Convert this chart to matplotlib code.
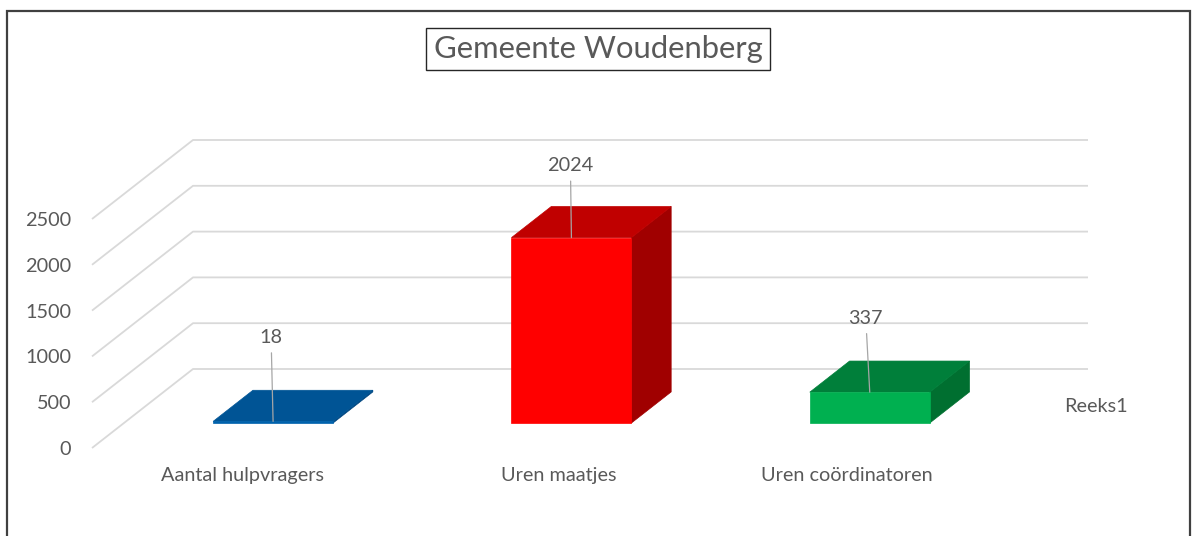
import matplotlib
matplotlib.use("Agg")
import matplotlib.pyplot as plt
from matplotlib.patches import Polygon, Rectangle
from matplotlib.transforms import ScaledTranslation

# ---- data ----
categories = ["Aantal hulpvragers", "Uren maatjes", "Uren coördinatoren"]
values = [18, 2024, 337]
yticks = [0, 500, 1000, 1500, 2000, 2500]
series_name = "Reeks1"
title = "Gemeente Woudenberg"

# ---- style ----
front_colors = ["#0062AC", "#FF0000", "#00B050"]
top_colors = ["#005495", "#C00000", "#007F3A"]
side_colors = ["#004680", "#A00000", "#006F30"]
label_offsets_px = [(-2, -84), (-1, -72), (-4, -74)]
xlabel_shift_px = [1, 19, 9]
text_color = "#595959"
grid_color = "#D9D9D9"
FONT = "Lato"
FS = 14.3

W, H = 1196, 536
fig = plt.figure(figsize=(W / 100, H / 100), dpi=100)
fig.patch.set_facecolor("white")

# axes = front plane of the 3D chart
ax_left, ax_right, ax_bottom, ax_top = 92, 987, 448, 219
ax = fig.add_axes([ax_left / W, (H - ax_bottom) / H,
                   (ax_right - ax_left) / W, (ax_bottom - ax_top) / H])
n = len(categories)
ax.set_xlim(-0.5, n - 0.5)
ax.set_ylim(0, max(yticks))
ax.set_facecolor("none")
for s in ax.spines.values():
    s.set_visible(False)

# depth vector (full depth) in data units: 101 px right, 79 px up
px_x = n / (ax_right - ax_left)
px_y = max(yticks) / (ax_bottom - ax_top)
DX = 101 * px_x
DY = 79 * px_y


def proj(x, y, d):
    return (x + d * DX, y + d * DY)


# gridlines: diagonal on left side wall + horizontal on back wall
for v in yticks:
    p0 = proj(-0.5, v, 0)
    p1 = proj(-0.5, v, 1)
    p2 = proj(n - 0.5, v, 1)
    ax.plot([p0[0], p1[0], p2[0]], [p0[1], p1[1], p2[1]],
            color=grid_color, lw=1.3, clip_on=False, zorder=1,
            solid_capstyle="butt")

# bars
bw = 0.402
df, db = 0.316, 0.71
for i, v in enumerate(values):
    xl, xr = i - bw / 2, i + bw / 2
    front = [proj(xl, 0, df), proj(xr, 0, df), proj(xr, v, df), proj(xl, v, df)]
    top = [proj(xl, v, df), proj(xr, v, df), proj(xr, v, db), proj(xl, v, db)]
    side = [proj(xr, 0, df), proj(xr, v, df), proj(xr, v, db), proj(xr, 0, db)]
    for poly, c in ((side, side_colors[i]), (top, top_colors[i]), (front, front_colors[i])):
        ax.add_patch(Polygon(poly, closed=True, facecolor=c, edgecolor=c,
                             lw=0.5, clip_on=False, zorder=3))
    # data label with leader line
    anchor = proj(i, v, df)
    ox, oy = label_offsets_px[i]
    ax.annotate(str(v), xy=anchor, xytext=(ox * 0.72, -oy * 0.72),
                textcoords="offset points", ha="center", va="center",
                fontsize=FS, color=text_color, family=FONT, zorder=5,
                annotation_clip=False,
                arrowprops=dict(arrowstyle="-", color="#A6A6A6", lw=0.9,
                                shrinkA=3, shrinkB=0))

# axis tick labels
ax.set_yticks(yticks)
ax.set_yticklabels([str(t) for t in yticks])
ax.set_xticks(range(n))
ax.set_xticklabels(categories)
ax.tick_params(axis="y", length=0, pad=15, labelsize=FS, labelcolor=text_color)
ax.tick_params(axis="x", length=0, pad=13.5, labelsize=FS, labelcolor=text_color)
for lab in ax.get_xticklabels() + ax.get_yticklabels():
    lab.set_family(FONT)
for lab, sh in zip(ax.get_xticklabels(), xlabel_shift_px):
    lab.set_transform(lab.get_transform() +
                      ScaledTranslation(sh / 100, 0, fig.dpi_scale_trans))

# legend entry
fig.text(1096 / W, 1 - 407 / H, series_name, ha="center", va="center",
         fontsize=FS, color=text_color, family=FONT)

# title with box
fig.text(598 / W, 1 - 49 / H, title, ha="center", va="center",
         fontsize=22.3, color=text_color, family=FONT,
         bbox=dict(boxstyle="square,pad=0.24", facecolor="white",
                   edgecolor="#262626", lw=1.0))

# outer chart border
fig.add_artist(Rectangle((7 / W, -0.05), (1190 - 7) / W, 1.05 - 11 / H,
                         transform=fig.transFigure, fill=False,
                         edgecolor="#404040", lw=1.6))

fig.savefig("out.png", dpi=100, facecolor="white")
